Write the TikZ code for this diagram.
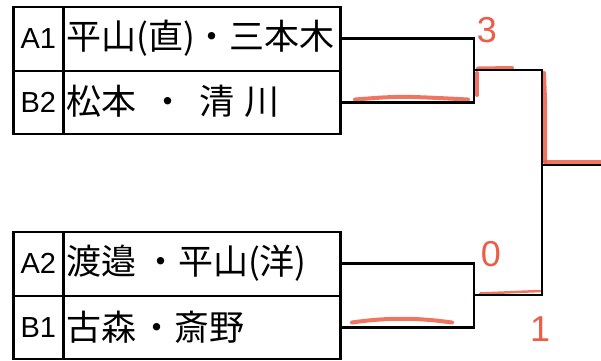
\documentclass[tikz,border=0pt]{standalone}
\usepackage{fontspec}
\setmainfont{Liberation Sans}
\newfontfamily\jpfont{Noto Sans CJK JP}
\begin{document}
\begin{tikzpicture}[x=1pt,y=-1pt,
  cell/.style={draw,line width=2.5pt,anchor=north west,inner sep=0pt,minimum height=64pt},
  labcell/.style={cell,minimum width=50pt},
  labtext/.style={inner sep=0pt,font=\fontsize{29}{29}\selectfont},
  namecell/.style={cell,minimum width=277pt},
  nametext/.style={anchor=west,inner sep=0pt,font=\jpfont\fontsize{35}{35}\selectfont},
  wire/.style={line width=2.6pt,line join=miter},
  penmark/.style={line width=4pt,draw=redpen,opacity=0.85,line cap=round},
  score/.style={text=redpen,font=\fontsize{36}{36}\selectfont,inner sep=0pt}]
\definecolor{redpen}{RGB}{236,92,70}
\useasboundingbox (0,0) rectangle (601,360);
% top block
\node[labcell] (A1) at (12,5.5) {};
\node[labtext] (A1l) at (A1.center) {A1};
\node[namecell] (A1n) at (62,5.5) {};
\node[nametext] (A1t) at (66,38) {平山(直)・三本木};
\node[labcell,minimum height=63pt] (B2) at (12,69.5) {};
\node[labtext] (B2l) at (B2.center) {B2};
\node[namecell,minimum height=63pt] (B2n) at (62,69.5) {};
\node[nametext] (B2t) at (66,101) {松本\hspace{0.4em}・\hspace{0.4em}清\hspace{0.3em}川};
% bottom block
\node[labcell] (A2) at (12,230.5) {};
\node[labtext] (A2l) at (A2.center) {A2};
\node[namecell] (A2n) at (62,230.5) {};
\node[nametext] (A2t) at (66,263) {渡邉\hspace{0.2em}・平山(洋)};
\node[labcell,minimum height=63pt] (B1) at (12,294.5) {};
\node[labtext] (B1l) at (B1.center) {B1};
\node[namecell,minimum height=63pt] (B1n) at (62,294.5) {};
\node[nametext] (B1t) at (66,327) {古森\hspace{0.1em}・斎野};
% bracket
\coordinate (m1) at (474,70);
\coordinate (m2) at (474,295);
\coordinate (f) at (542,165);
\coordinate (out) at (601,165);
% red pen marks
\draw[penmark] (355,99.5) .. controls (400,96) .. (468,99.5);
\draw[penmark] (477,73) -- (477,95);
\draw[penmark] (478,68.5) -- (512,68);
\draw[penmark] (544,73) -- (545,100) -- (545,162);
\draw[penmark] (545,162) -- (601,162);
\draw[penmark,line width=2.5pt] (480,293.5) -- (540,291);
\draw[penmark] (352,322.5) .. controls (390,317) and (420,318) .. (452,322.5);
\draw[wire] (A1n.east |- A1.east) -| (m1) |- (B2n.east |- B2.east);
\draw[wire] (A2n.east |- A2.east) -| (m2) |- (B1n.east |- B1.east);
\draw[wire] (m1) -| (f) |- (m2);
\draw[wire] (f) -- (out);
\node[score] (s3) at (487,30) {3};
\node[score] (s0) at (491,254) {0};
\node[score] (s1) at (540,329) {1};
\end{tikzpicture}
\end{document}
